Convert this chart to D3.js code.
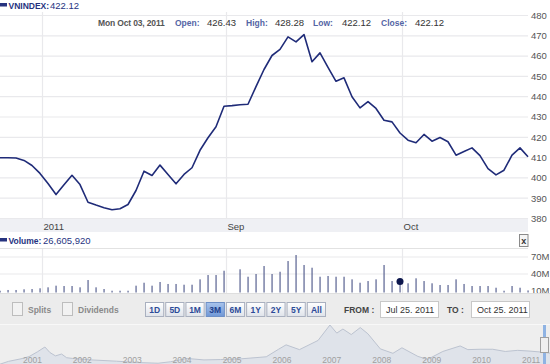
<!DOCTYPE html>
<html><head><meta charset="utf-8">
<script src="https://cdn.jsdelivr.net/npm/d3@7/dist/d3.min.js"></script>
<style>
html,body{margin:0;padding:0;background:#fff;overflow:hidden;}
svg{display:block;font-family:"Liberation Sans",Arial,sans-serif;}
</style>
</head><body>
<svg id="c" width="550" height="364"></svg>
<script>
// ---------------- DATA ----------------
const dates = [
 "2011-07-25","2011-07-26","2011-07-27","2011-07-28","2011-07-29",
 "2011-08-01","2011-08-02","2011-08-03","2011-08-04","2011-08-05","2011-08-08","2011-08-09","2011-08-10","2011-08-11","2011-08-12",
 "2011-08-15","2011-08-16","2011-08-17","2011-08-18","2011-08-19","2011-08-22","2011-08-23","2011-08-24","2011-08-25","2011-08-26",
 "2011-08-29","2011-08-30","2011-08-31",
 "2011-09-01","2011-09-02","2011-09-05","2011-09-06","2011-09-07","2011-09-08","2011-09-09","2011-09-12","2011-09-13","2011-09-14",
 "2011-09-15","2011-09-16","2011-09-19","2011-09-20","2011-09-21","2011-09-22","2011-09-23","2011-09-26","2011-09-27","2011-09-28",
 "2011-09-29","2011-09-30",
 "2011-10-03","2011-10-04","2011-10-05","2011-10-06","2011-10-07","2011-10-10","2011-10-11","2011-10-12","2011-10-13","2011-10-14",
 "2011-10-17","2011-10-18","2011-10-19","2011-10-20","2011-10-21","2011-10-24","2011-10-25"
];
const closes = [
 409.9,409.9,409.8,408.6,406.1,
 402.2,397.2,391.8,396.6,401.3,396.7,388.0,386.6,385.3,384.3,
 384.8,386.9,393.8,403.3,401.2,406.3,401.7,397.1,401.7,405.0,
 413.6,419.8,425.2,
 435.3,435.6,436.0,436.3,445.0,453.4,460.3,463.3,469.5,467.0,
 470.6,457.2,461.6,454.5,447.6,449.3,440.0,434.5,437.6,434.2,
 428.4,427.6,
 422.12,418.6,417.3,421.4,418.1,419.9,417.8,411.2,413.0,414.8,
 411.0,404.6,401.5,403.8,411.2,414.8,410.4
];
// volumes in millions of shares (null = no trading)
const volumes = [
 10.5,11.8,11.8,13.0,13.5,
 14.8,16.5,19.4,18.8,18.8,16.5,29.4,16.5,13.5,10.5,
 10.5,10.5,19.4,24.6,19.4,25.9,22.4,22.4,21.1,21.1,
 30.6,38.2,38.2,
 45.8,null,48.3,35.2,40.0,54.1,40.0,44.0,62.9,73.5,
 55.9,51.1,35.2,36.5,35.2,35.2,30.6,24.6,27.6,30.6,
 55.9,27.6,
 26.6,23.6,32.4,27.6,23.6,20.6,20.6,30.6,22.4,18.8,
 18.8,18.8,15.8,10.5,18.8,15.8,11.0
];
const priceTicks = [380,390,400,410,420,430,440,450,460,470,480];
const volumeTicks = [10,40,70];
const volumeTickLabels = ["10M","40M","70M"];
const monthTicks = ["2011-08-01","2011-09-01","2011-10-03"];
const monthLabels = ["2011","Sep","Oct"];
const seriesName = "VNINDEX";
const lastClose = "422.12";
const hoverDate = "2011-10-03";
const hoverLabel = "Mon Oct 03, 2011";
const ohlcNames = ["Open:","High:","Low:","Close:"];
const ohlcValues = ["426.43","428.28","422.12","422.12"];
const hoverVolume = "26,605,920";
const rangeButtons = ["1D","5D","1M","3M","6M","1Y","2Y","5Y","All"];
const selectedRange = "3M";
const fromDate = "Jul 25. 2011";
const toDate = "Oct 25. 2011";
const navDates = [
 "2000-07-28","2000-10-01","2001-01-01","2001-03-01","2001-05-01","2001-06-25","2001-08-01","2001-09-10","2001-10-25","2001-12-01",
 "2002-01-15","2002-06-01","2002-12-01","2003-05-01","2003-10-01","2004-01-01","2004-05-01","2004-09-01","2005-01-01","2005-06-01",
 "2005-12-01","2006-03-01","2006-04-25","2006-08-01","2006-12-15","2007-03-12","2007-05-01","2007-06-15","2007-08-15","2007-10-20",
 "2007-12-15","2008-03-15","2008-06-15","2008-08-20","2008-12-15","2009-02-24","2009-06-15","2009-10-20","2009-12-15","2010-03-15",
 "2010-06-15","2010-09-15","2010-12-15","2011-03-15","2011-06-15","2011-08-15","2011-09-15","2011-10-25"
];
const navValues = [
 100,180,250,310,440,571,420,330,380,280,
 260,220,185,150,130,170,260,220,230,250,
 305,510,630,500,750,1170,950,1060,910,1100,
 930,520,400,550,315,235,450,600,500,510,
 510,450,480,460,430,400,470,410
];
const navYears = ["2001","2002","2003","2004","2005","2006","2007","2008","2009","2010","2011"];

// ---------------- DRAW ----------------
const svg = d3.select("#c");
const W = 550, plotR = 528;
const navy = "#26337f", lineCol = "#1f2b78", grid = "#e9e9ec", axisTxt = "#555";
const parse = d3.timeParse("%Y-%m-%d");
const boldSize = 8.5;

const x = d3.scalePoint().domain(dates).range([0, plotR]);
const y = d3.scaleLinear().domain([380, 480]).range([218.5, 15.5]);
const yv = d3.scaleLinear().domain([10, 70]).range([291, 257]);
const gOff = 2.5; // month gridline offset from tick day

// price horizontal grid
svg.append("g").selectAll("line").data(priceTicks).join("line")
  .attr("x1", 0).attr("x2", plotR).attr("y1", d => y(d)).attr("y2", d => y(d))
  .attr("stroke", grid).attr("stroke-width", 1.2);
// vertical month gridlines (price + volume panes)
svg.append("g").selectAll("line").data(monthTicks).join("line")
  .attr("x1", d => x(d) + gOff).attr("x2", d => x(d) + gOff)
  .attr("y1", 12).attr("y2", 219).attr("stroke", grid).attr("stroke-width", 1.2);
svg.append("g").selectAll("line").data(monthTicks).join("line")
  .attr("x1", d => x(d) + gOff).attr("x2", d => x(d) + gOff)
  .attr("y1", 248).attr("y2", 293).attr("stroke", grid).attr("stroke-width", 1.2);

// price axis labels (right)
svg.append("g").selectAll("text").data(priceTicks).join("text")
  .attr("x", 531).attr("y", d => y(d)).attr("dy", "0.35em")
  .attr("font-size", 9.5).attr("fill", axisTxt).text(d => d);

// price line
svg.append("path").datum(dates.map((d, i) => [d, closes[i]]))
  .attr("fill", "none").attr("stroke", lineCol).attr("stroke-width", 1.6)
  .attr("stroke-linejoin", "round")
  .attr("d", d3.line().x(d => x(d[0])).y(d => y(d[1])));

// top legend
svg.append("rect").attr("x", 0).attr("y", 3).attr("width", 7).attr("height", 3.5).attr("fill", navy);
svg.append("text").attr("x", 8.5).attr("y", 9).attr("font-size", boldSize).attr("font-weight", "bold").attr("fill", navy).text(seriesName + ":");
svg.append("text").attr("x", 50).attr("y", 9).attr("font-size", 9.5).attr("fill", navy).text(lastClose);

// OHLC row
svg.append("text").attr("x", 98).attr("y", 26).attr("font-size", boldSize).attr("font-weight", "bold")
  .attr("letter-spacing", -0.15).attr("fill", "#555").text(hoverLabel);
const nameX = [175, 246, 313, 381], valX = [207, 275, 342, 415];
ohlcNames.forEach((n, i) => {
  svg.append("text").attr("x", nameX[i]).attr("y", 26).attr("font-size", boldSize).attr("font-weight", "bold").attr("fill", "#5565a5").text(n);
  svg.append("text").attr("x", valX[i]).attr("y", 26).attr("font-size", 9.5).attr("fill", "#333").text(ohlcValues[i]);
});

// x-axis band
svg.append("rect").attr("x", 0).attr("y", 219).attr("width", plotR).attr("height", 13).attr("fill", "#eff0f4");
svg.append("g").selectAll("text").data(monthTicks).join("text")
  .attr("x", d => x(d) + gOff + 1).attr("y", 229.5)
  .attr("font-size", 9.5).attr("fill", "#444").text((d, i) => monthLabels[i]);

// volume legend
svg.append("rect").attr("x", 0).attr("y", 238).attr("width", 7).attr("height", 3.5).attr("fill", navy);
svg.append("text").attr("x", 8.5).attr("y", 243.5).attr("font-size", boldSize).attr("font-weight", "bold").attr("fill", navy).text("Volume:");
svg.append("text").attr("x", 43).attr("y", 243.5).attr("font-size", 9.5).attr("fill", navy).text(hoverVolume);
// close "x" button
svg.append("rect").attr("x", 519.5).attr("y", 234.5).attr("width", 8.5).attr("height", 12).attr("fill", "#f5f5f5").attr("stroke", "#8a8a8a");
svg.append("text").attr("x", 523.8).attr("y", 243.5).attr("text-anchor", "middle").attr("font-size", 9).attr("font-weight", "bold").attr("fill", "#333").text("x");

// volume pane
svg.append("line").attr("x1", 0).attr("x2", plotR).attr("y1", 248.5).attr("y2", 248.5).attr("stroke", "#e2e2e2");
svg.append("g").selectAll("line").data(volumeTicks.slice(1)).join("line")
  .attr("x1", 0).attr("x2", plotR).attr("y1", d => yv(d)).attr("y2", d => yv(d))
  .attr("stroke", grid).attr("stroke-width", 1.2);
svg.append("g").selectAll("text").data(volumeTicks).join("text")
  .attr("x", 531).attr("y", d => yv(d)).attr("dy", "0.35em")
  .attr("font-size", 9.5).attr("fill", axisTxt).text((d, i) => volumeTickLabels[i]);
svg.append("g").selectAll("rect").data(dates.map((d, i) => [d, volumes[i]]).filter(d => d[1] != null)).join("rect")
  .attr("x", d => x(d[0]) - 0.5).attr("width", 1.1)
  .attr("y", d => yv(d[1])).attr("height", d => 292.5 - yv(d[1]))
  .attr("fill", "#4a5487");
const hv = volumes[dates.indexOf(hoverDate)];
svg.append("circle").attr("cx", x(hoverDate)).attr("cy", yv(hv)).attr("r", 3.5).attr("fill", "#0d174d");

// controls band
svg.append("rect").attr("x", 0).attr("y", 293).attr("width", W).attr("height", 32).attr("fill", "#ececec");
svg.append("line").attr("x1", 0).attr("x2", W).attr("y1", 293.5).attr("y2", 293.5).attr("stroke", "#dedede");
const cb = [[12, "Splits"], [62, "Dividends"]];
cb.forEach(c => {
  svg.append("rect").attr("x", c[0] + 0.5).attr("y", 302.5).attr("width", 10).attr("height", 13).attr("fill", "#f2f2f2").attr("stroke", "#bdbdbd");
  svg.append("text").attr("x", c[0] + 16).attr("y", 313).attr("font-size", 8.5).attr("font-weight", "bold").attr("fill", "#8a8a8a").text(c[1]);
});
const defs = svg.append("defs");
const gb = defs.append("linearGradient").attr("id", "btn").attr("x1", 0).attr("y1", 0).attr("x2", 0).attr("y2", 1);
gb.append("stop").attr("offset", 0).attr("stop-color", "#ffffff");
gb.append("stop").attr("offset", 1).attr("stop-color", "#dfe3ea");
const gs = defs.append("linearGradient").attr("id", "btnSel").attr("x1", 0).attr("y1", 0).attr("x2", 0).attr("y2", 1);
gs.append("stop").attr("offset", 0).attr("stop-color", "#a9c4ec");
gs.append("stop").attr("offset", 1).attr("stop-color", "#6f97d6");
const bx = d3.scaleBand().domain(rangeButtons).range([145, 325]).paddingInner(0.1);
const bg = svg.append("g").selectAll("g").data(rangeButtons).join("g");
bg.append("rect").attr("x", d => bx(d) + 0.5).attr("y", 302.5).attr("width", bx.bandwidth()).attr("height", 14)
  .attr("fill", d => d === selectedRange ? "url(#btnSel)" : "url(#btn)")
  .attr("stroke", d => d === selectedRange ? "#6d8fc6" : "#a9b0bf");
bg.append("text").attr("x", d => bx(d) + bx.bandwidth() / 2 + 0.5).attr("y", 313)
  .attr("text-anchor", "middle").attr("font-size", 8.5).attr("font-weight", "bold")
  .attr("fill", d => d === selectedRange ? "#1e3f8c" : "#2c4b98").text(d => d);
svg.append("text").attr("x", 344).attr("y", 313).attr("font-size", 8.5).attr("font-weight", "bold").attr("fill", "#444").text("FROM :");
svg.append("rect").attr("x", 380.5).attr("y", 301.5).attr("width", 58).attr("height", 16).attr("fill", "#fff").attr("stroke", "#c8c8c8");
svg.append("text").attr("x", 386).attr("y", 313).attr("font-size", 9).attr("fill", "#333").text(fromDate);
svg.append("text").attr("x", 447).attr("y", 313).attr("font-size", 8.5).attr("font-weight", "bold").attr("fill", "#444").text("TO :");
svg.append("rect").attr("x", 471.5).attr("y", 301.5).attr("width", 58).attr("height", 16).attr("fill", "#fff").attr("stroke", "#c8c8c8");
svg.append("text").attr("x", 477).attr("y", 313).attr("font-size", 9).attr("fill", "#333").text(toDate);

// navigator
svg.append("rect").attr("x", 0).attr("y", 325).attr("width", W).attr("height", 39).attr("fill", "#eeeeee");
svg.append("line").attr("x1", 0).attr("x2", W).attr("y1", 324.5).attr("y2", 324.5).attr("stroke", "#f8f8f8");
const nx = d3.scaleTime().domain([parse("2001-01-01"), parse("2011-01-01")]).range([21, 520]);
const ny = d3.scaleLinear().domain([0, 1170]).range([368, 325]);
const navData = navDates.map((d, i) => [parse(d), navValues[i]]);
svg.append("path").datum(navData).attr("fill", "#dfe3ea")
  .attr("d", d3.area().x(d => nx(d[0])).y0(368).y1(d => ny(d[1])));
svg.append("path").datum(navData).attr("fill", "none").attr("stroke", "#bcc3d0").attr("stroke-width", 1)
  .attr("d", d3.line().x(d => nx(d[0])).y(d => ny(d[1])));
svg.append("g").selectAll("text").data(navYears).join("text")
  .attr("x", d => nx(parse(d + "-01-01")) + 2).attr("y", 363)
  .attr("font-size", 8.5).attr("fill", "#a0a0a0").text(d => d);
// navigator handle
svg.append("rect").attr("x", 543).attr("y", 325).attr("width", 3).attr("height", 39).attr("fill", "#8fb3e3");
svg.append("rect").attr("x", 540.5).attr("y", 337.5).attr("width", 8).attr("height", 15).attr("fill", "#f0f0f0").attr("stroke", "#a0a0a0");
</script>
</body></html>
